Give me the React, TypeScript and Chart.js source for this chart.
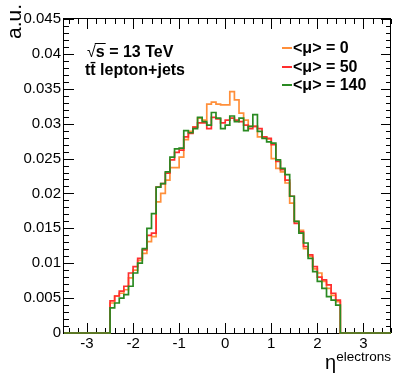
import React, { useEffect, useRef } from "react";
import { Chart, registerables } from "chart.js";

Chart.register(...registerables);

// ---- data ----
const BIN_START = -2.5;
const BIN_WIDTH = 0.1;
const X_MIN = -3.5;
const X_MAX = 3.6;
const Y_MIN = 0;
const Y_MAX = 0.045;
const X_TICKS = [-3, -2, -1, 0, 1, 2, 3];
const Y_TICKS = [0, 0.005, 0.01, 0.015, 0.02, 0.025, 0.03, 0.035, 0.04, 0.045];
const X_MINOR_STEP = 0.2;
const Y_MINOR_STEP = 0.001;

const MU0 = [
  0.0043, 0.0053, 0.0057, 0.0062, 0.0079, 0.009, 0.0104, 0.0114, 0.0131, 0.0138,
  0.0188, 0.02, 0.0219, 0.0237, 0.0237, 0.0252, 0.0277, 0.0289, 0.0295, 0.0308,
  0.0305, 0.0328, 0.0331, 0.0328, 0.0327, 0.0327, 0.0346, 0.0334, 0.0315, 0.0305,
  0.0296, 0.0296, 0.0281, 0.0281, 0.0278, 0.025, 0.0236, 0.0231, 0.0215, 0.0186,
  0.016, 0.0147, 0.0121, 0.011, 0.0092, 0.0086, 0.0074, 0.0064, 0.0054, 0.0045,
];
const MU50 = [
  0.0046, 0.0053, 0.006, 0.0067, 0.0086, 0.0095, 0.0107, 0.0119, 0.014, 0.0143,
  0.0209, 0.0214, 0.0229, 0.0248, 0.0259, 0.0262, 0.0281, 0.0286, 0.0295, 0.0301,
  0.0301, 0.0293, 0.0309, 0.0307, 0.0301, 0.0305, 0.0308, 0.0305, 0.0303, 0.0298,
  0.0293, 0.0296, 0.0293, 0.0281, 0.0279, 0.027, 0.0246, 0.0234, 0.0219, 0.0196,
  0.0157, 0.0145, 0.0124, 0.0112, 0.0095, 0.008, 0.0076, 0.0069, 0.0057, 0.0047,
];
const MU140 = [
  0.0036, 0.0043, 0.005, 0.0055, 0.0067, 0.0086, 0.01, 0.0121, 0.015, 0.0171,
  0.0209, 0.0214, 0.0231, 0.0252, 0.0264, 0.0265, 0.029, 0.0287, 0.0293, 0.0309,
  0.0303, 0.0298, 0.0316, 0.0308, 0.0293, 0.0298, 0.0311, 0.0303, 0.0308, 0.029,
  0.0296, 0.0313, 0.0289, 0.0279, 0.0274, 0.0272, 0.0248, 0.0236, 0.0227, 0.0196,
  0.016, 0.0143, 0.0129, 0.0107, 0.0088, 0.0074, 0.0064, 0.0052, 0.0047, 0.004,
];
const SERIES_LABELS = ["<\u03bc> = 0", "<\u03bc> = 50", "<\u03bc> = 140"];
const SERIES_COLORS = ["#ff8f3a", "#ff2e2e", "#2a8a22"];
const SERIES_VALUES = [MU0, MU50, MU140];

const Y_TITLE = "a.u.";
const X_TITLE_MAIN = "\u03b7";
const X_TITLE_SUP = "electrons";
const ENERGY_LABEL = "s = 13 TeV";
const PROCESS_LABEL = "t\u0074\u0304 lepton+jets";

const FONT = "'Liberation Sans', Arial, Helvetica, sans-serif";

function stepPoints(values: number[]) {
  // each point sits at a bin's left edge; the step holds its value until the next edge
  const pts: { x: number; y: number }[] = [{ x: X_MIN, y: 0 }];
  values.forEach((v, i) => pts.push({ x: BIN_START + i * BIN_WIDTH, y: v }));
  pts.push({ x: BIN_START + values.length * BIN_WIDTH, y: 0 });
  pts.push({ x: X_MAX, y: 0 });
  return pts;
}

function fmtY(v: number) {
  return String(parseFloat(v.toFixed(4)));
}

const framePlugin = {
  id: "rootFrame",
  beforeDatasetsDraw(chart: any) {
    const { ctx, chartArea } = chart;
    const xs = chart.scales.x;
    const ys = chart.scales.y;
    const L = chartArea.left, R = chartArea.right, T = chartArea.top, B = chartArea.bottom;
    ctx.save();
    ctx.strokeStyle = "#000";
    ctx.lineWidth = 1;
    ctx.strokeRect(L - 0.5, T - 0.5, R - L, B - T + 1);
    ctx.beginPath();
    const nx = Math.round((X_MAX - X_MIN) / X_MINOR_STEP);
    for (let k = 0; k <= nx + 1; k++) {
      const v = -3.4 + k * X_MINOR_STEP;
      if (v < X_MIN - 1e-9 || v > X_MAX + 1e-9) continue;
      const major = X_TICKS.some((t) => Math.abs(t - v) < 1e-6);
      const len = major ? 10 : 5;
      const px = Math.round(xs.getPixelForValue(v)) + 0.5;
      ctx.moveTo(px, B);
      ctx.lineTo(px, B - len);
      ctx.moveTo(px, T);
      ctx.lineTo(px, T + len);
    }
    const ny = Math.round((Y_MAX - Y_MIN) / Y_MINOR_STEP);
    for (let k = 0; k <= ny; k++) {
      const v = Y_MIN + k * Y_MINOR_STEP;
      const major = Y_TICKS.some((t) => Math.abs(t - v) < 1e-9);
      const len = major ? 10 : 5;
      const py = Math.round(ys.getPixelForValue(v)) + 0.5;
      ctx.moveTo(L, py);
      ctx.lineTo(L + len, py);
      ctx.moveTo(R, py);
      ctx.lineTo(R - len, py);
    }
    ctx.stroke();
    ctx.restore();
  },
  afterDraw(chart: any) {
    const { ctx, chartArea } = chart;
    const R = chartArea.right;
    ctx.save();
    ctx.fillStyle = "#000";
    // y title
    ctx.save();
    ctx.translate(21, 4);
    ctx.rotate(-Math.PI / 2);
    ctx.font = `21px ${FONT}`;
    ctx.textAlign = "right";
    ctx.textBaseline = "alphabetic";
    ctx.fillText(Y_TITLE, 0, 0);
    ctx.restore();
    // x title
    ctx.font = `13.5px ${FONT}`;
    ctx.textAlign = "right";
    ctx.textBaseline = "alphabetic";
    ctx.fillText(X_TITLE_SUP, R, 361);
    const supW = ctx.measureText(X_TITLE_SUP).width;
    ctx.font = `20px ${FONT}`;
    ctx.fillText(X_TITLE_MAIN, R - supW, 369);

    // sqrt(s) label
    ctx.textAlign = "left";
    ctx.font = `16px ${FONT}`;
    const sx = 87;
    ctx.fillText("\u221a", sx, 57);
    const rootW = ctx.measureText("\u221a").width;
    ctx.font = `bold 16px ${FONT}`;
    ctx.fillText(ENERGY_LABEL, sx + rootW, 57);
    const sW = ctx.measureText("s").width;
    ctx.beginPath();
    ctx.lineWidth = 1;
    ctx.strokeStyle = "#000";
    ctx.moveTo(sx + rootW - 1, 43.5);
    ctx.lineTo(sx + rootW + sW + 1, 43.5);
    ctx.stroke();
    // process label
    ctx.fillText(PROCESS_LABEL, 85, 75);

    // legend
    const rows = [48, 67, 85];
    SERIES_LABELS.forEach((lab, i) => {
      ctx.strokeStyle = SERIES_COLORS[i];
      ctx.lineWidth = 2;
      ctx.beginPath();
      ctx.moveTo(282, rows[i]);
      ctx.lineTo(292, rows[i]);
      ctx.stroke();
      ctx.fillStyle = "#000";
      ctx.font = `bold 16px ${FONT}`;
      ctx.textBaseline = "middle";
      ctx.fillText(lab, 293, rows[i] + 1);
    });
    ctx.restore();
  },
};

export default function App() {
  const ref = useRef<HTMLCanvasElement | null>(null);
  useEffect(() => {
    document.body.style.margin = "0";
    if (!ref.current) return;
    const order = [2, 1, 0];
    const chart = new Chart(ref.current, {
      type: "line",
      data: {
        datasets: SERIES_VALUES.map((vals, i) => ({
          label: SERIES_LABELS[i],
          data: stepPoints(vals),
          borderColor: SERIES_COLORS[i],
          borderWidth: 1.7,
          stepped: "before" as const,
          pointRadius: 0,
          fill: false,
          clip: false as any,
          order: order[i],
        })),
      },
      options: {
        animation: false,
        responsive: false,
        maintainAspectRatio: false,
        layout: { padding: { left: 0, right: 8, top: 19, bottom: 0 } },
        plugins: { legend: { display: false }, tooltip: { enabled: false } },
        scales: {
          x: {
            type: "linear",
            min: X_MIN,
            max: X_MAX,
            afterBuildTicks: (s: any) => {
              s.ticks = X_TICKS.map((v) => ({ value: v }));
            },
            afterFit: (s: any) => {
              s.height = 50;
            },
            grid: { display: false, drawTicks: false },
            border: { display: false },
            ticks: {
              color: "#000",
              font: { family: FONT, size: 15 },
              padding: 2,
              maxRotation: 0,
              autoSkip: false,
              callback: (v: any) => String(v),
            },
          },
          y: {
            type: "linear",
            min: Y_MIN,
            max: Y_MAX,
            afterBuildTicks: (s: any) => {
              s.ticks = Y_TICKS.map((v) => ({ value: v }));
            },
            afterFit: (s: any) => {
              s.width = 64;
            },
            grid: { display: false, drawTicks: false },
            border: { display: false },
            ticks: {
              color: "#000",
              font: { family: FONT, size: 15 },
              padding: 3,
              autoSkip: false,
              callback: (v: any) => fmtY(Number(v)),
            },
          },
        },
      },
      plugins: [framePlugin],
    });
    return () => chart.destroy();
  }, []);
  return (
    <div style={{ width: 399, height: 383 }}>
      <canvas ref={ref} width={399} height={383} style={{ display: "block" }} />
    </div>
  );
}
